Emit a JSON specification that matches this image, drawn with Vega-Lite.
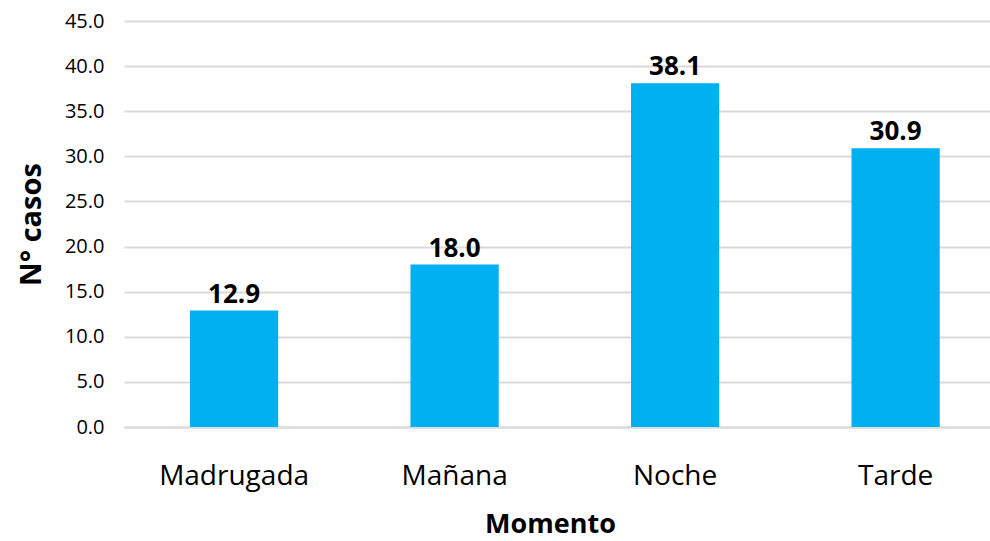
{
  "$schema": "https://vega.github.io/schema/vega-lite/v6.json",
  "width": 866,
  "height": 406,
  "autosize": {"type": "none"},
  "padding": {"left": 124, "top": 21, "right": 0, "bottom": 114},
  "background": "white",
  "config": {"view": {"stroke": null}, "font": "Open Sans"},
  "data": {"values": [
    {"Momento": "Madrugada", "casos": 12.9},
    {"Momento": "Mañana", "casos": 18.0},
    {"Momento": "Noche", "casos": 38.1},
    {"Momento": "Tarde", "casos": 30.9}
  ]},
  "encoding": {
    "x": {"field": "Momento", "type": "nominal", "sort": null,
      "scale": {"paddingInner": 0.6, "paddingOuter": 0.2637, "align": 0.5675},
      "axis": {"title": "Momento", "labelAngle": 0, "labelFont": "Open Sans", "labelFontSize": 28, "labelColor": "#000000", "labelPadding": 35,
        "ticks": false, "domainColor": "#d9d9d9", "domainWidth": 2,
        "titleFont": "Open Sans", "titleFontSize": 27, "titleFontWeight": "bold", "titleColor": "#000000", "titlePadding": 21, "titleX": 426}},
    "y": {"field": "casos", "type": "quantitative",
      "scale": {"domain": [0, 45]},
      "axis": {"title": "N° casos", "values": [0,5,10,15,20,25,30,35,40,45], "format": ".1f",
        "labelFont": "Open Sans", "labelFontSize": 20, "labelColor": "#000000", "labelPadding": 20,
        "ticks": false, "domain": false, "gridColor": "#d9d9d9", "gridWidth": 2,
        "titleFont": "Open Sans", "titleFontSize": 29, "titleFontWeight": "bold", "titleColor": "#000000", "titlePadding": 18}}
  },
  "layer": [
    {"mark": {"type": "bar", "color": "#00B0F0"}},
    {"mark": {"type": "text", "baseline": "bottom", "dy": -3, "font": "Open Sans", "fontSize": 26, "fontWeight": "bold", "color": "#000000"},
      "encoding": {"text": {"field": "casos", "type": "quantitative", "format": ".1f"}}}
  ]
}
